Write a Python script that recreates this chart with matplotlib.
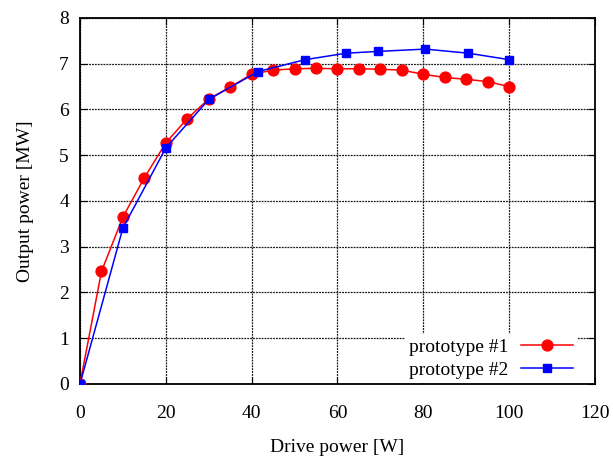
import matplotlib
matplotlib.use('Agg')
import matplotlib.pyplot as plt

# prototype #1 (red circles)
drive_p1 = [0, 5, 10, 15, 20, 25, 30, 35, 40, 45, 50, 55, 60, 65, 70, 75, 80, 85, 90, 95, 100]
out_p1 = [0, 2.46, 3.65, 4.51, 5.27, 5.80, 6.23, 6.49, 6.77, 6.86, 6.89, 6.90, 6.89, 6.89,
          6.88, 6.86, 6.77, 6.70, 6.66, 6.61, 6.50]

# prototype #2 (blue squares)
drive_p2 = [0, 10, 20, 30, 41.5, 52.5, 62, 69.5, 80.5, 90.5, 100]
out_p2 = [0, 3.41, 5.16, 6.22, 6.83, 7.09, 7.23, 7.27, 7.32, 7.23, 7.09]

x_ticks = [0, 20, 40, 60, 80, 100, 120]
y_ticks = [0, 1, 2, 3, 4, 5, 6, 7, 8]

plt.rcParams['font.family'] = ['Liberation Serif', 'DejaVu Serif']

fig = plt.figure(figsize=(6.13, 4.59), dpi=100)
ax = fig.add_axes([0.1305, 0.1634, 0.8401, 0.7974])

ax.plot(drive_p1, out_p1, color='#ff0000', lw=1.1, marker='o', ms=7.8,
        label='prototype #1', zorder=3)
ax.plot(drive_p2, out_p2, color='#0000ff', lw=1.1, marker='s', ms=5.5,
        label='prototype #2', zorder=4)

ax.set_xlim(0, 120)
ax.set_ylim(0, 8)
ax.set_xticks(x_ticks)
ax.set_yticks(y_ticks)
ax.grid(True, color='0.1', lw=0.9, ls=(0, (1.5, 0.8)))
ax.tick_params(direction='in', top=True, right=True, length=5, labelsize=14)
ax.tick_params(axis='x', pad=15)
ax.tick_params(axis='y', pad=8)
for s in ax.spines.values():
    s.set_linewidth(1.3)

ax.set_xlabel('Drive power [W]', fontsize=14, labelpad=12.5)
ax.set_ylabel('Output power [MW]', fontsize=14, labelpad=18)

leg = ax.legend(loc='lower right', bbox_to_anchor=(0.965, 0.003), borderaxespad=0,
                markerfirst=False, fontsize=14, frameon=True, fancybox=False,
                edgecolor='none', framealpha=1, handlelength=2.7,
                handletextpad=0.65, labelspacing=0.3, borderpad=0.2)
leg.set_zorder(5)

fig.savefig('out.png', dpi=100)
